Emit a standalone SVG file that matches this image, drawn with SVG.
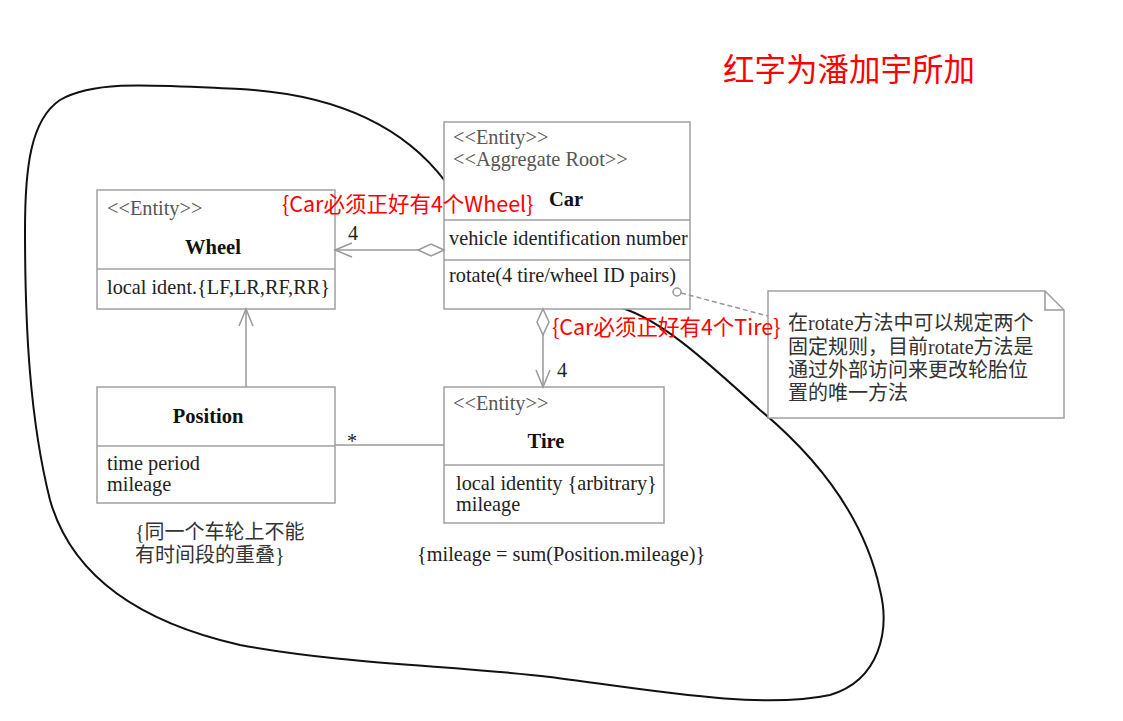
<svg xmlns="http://www.w3.org/2000/svg" width="1123" height="721" viewBox="0 0 1123 721">
<style>
.box{fill:#fff;stroke:#a0a0a0;stroke-width:1.5}
.div{stroke:#a0a0a0;stroke-width:1.5}
.t{font-family:"Liberation Serif","Noto Sans CJK SC",serif;font-size:20.3px;fill:#222}
.st{font-family:"Liberation Serif",serif;font-size:20.3px;fill:#555}
.b{font-family:"Liberation Serif",serif;font-size:20.5px;font-weight:bold;fill:#111;text-anchor:middle}
.cn{font-family:"Liberation Serif","Noto Sans CJK SC",sans-serif;font-size:20px;fill:#333}
.red{font-family:"Noto Sans CJK SC","Noto Sans",sans-serif;fill:#ff0000}
.con{fill:none;stroke:#999;stroke-width:1.5}
.dia{fill:#fff;stroke:#999;stroke-width:1.5}
</style>
<rect width="1123" height="721" fill="#fff"/>
<path id="boundary" d="M445,181 C410,135 350,95 240,89 C150,85 95,80 60,100 C30,120 25,170 25,230 C25,330 30,420 50,500 C70,570 130,620 240,645 C350,665 450,665 550,677 C650,690 760,710 830,695 C880,680 890,630 880,590 C865,520 820,460 760,410 C700,355 660,320 622,308" fill="none" stroke="#111" stroke-width="2"/>
<g id="wheel">
<rect class="box" x="97" y="190" width="238" height="119"/>
<line class="div" x1="97" y1="269" x2="335" y2="269"/>
<text class="st" x="107" y="215">&lt;&lt;Entity&gt;&gt;</text>
<text class="b" x="213" y="254">Wheel</text>
<text class="t" x="107" y="294">local ident.{LF,LR,RF,RR}</text>
</g>
<g id="car">
<rect class="box" x="444" y="122" width="246" height="187"/>
<line class="div" x1="444" y1="220" x2="690" y2="220"/>
<line class="div" x1="444" y1="260" x2="690" y2="260"/>
<text class="st" x="453" y="144">&lt;&lt;Entity&gt;&gt;</text>
<text class="st" x="453" y="166">&lt;&lt;Aggregate Root&gt;&gt;</text>
<text class="b" x="566" y="206">Car</text>
<text class="t" x="449" y="245">vehicle identification number</text>
<text class="t" x="449" y="282">rotate(4 tire/wheel ID pairs)</text>
</g>
<g id="position">
<rect class="box" x="97" y="387" width="238" height="116"/>
<line class="div" x1="97" y1="446" x2="335" y2="446"/>
<text class="b" x="208" y="423">Position</text>
<text class="t" x="107" y="470">time period</text>
<text class="t" x="107" y="491">mileage</text>
</g>
<g id="tire">
<rect class="box" x="444" y="387" width="220" height="136"/>
<line class="div" x1="444" y1="465" x2="664" y2="465"/>
<text class="st" x="453" y="410">&lt;&lt;Entity&gt;&gt;</text>
<text class="b" x="546" y="448">Tire</text>
<text class="t" x="456" y="490">local identity {arbitrary}</text>
<text class="t" x="456" y="511">mileage</text>
</g>
<g id="note">
<polygon class="box" points="768,291 1045,291 1064,310 1064,418 768,418"/>
<polyline class="con" points="1045,291 1045,310 1064,310"/>
<text class="cn" x="788" y="330">在rotate方法中可以规定两个</text>
<text class="cn" x="788" y="354">固定规则，目前rotate方法是</text>
<text class="cn" x="788" y="377">通过外部访问来更改轮胎位</text>
<text class="cn" x="788" y="400">置的唯一方法</text>
</g>
<g id="connectors">
<line class="con" x1="335" y1="250" x2="418" y2="250"/>
<polyline class="con" points="352,243 335,250 352,257"/>
<polygon class="dia" points="444,250 431,244 418,250 431,256"/>
<line class="con" x1="543" y1="335" x2="543" y2="387"/>
<polyline class="con" points="536,370 543,387 550,370"/>
<polygon class="dia" points="543,309 549,322 543,335 537,322"/>
<line class="con" x1="246" y1="387" x2="246" y2="309"/>
<polyline class="con" points="239,326 246,309 253,326"/>
<line class="con" x1="335" y1="445" x2="444" y2="445"/>
<line x1="681" y1="293" x2="768" y2="316" stroke="#999" stroke-width="1.5" stroke-dasharray="5,3"/>
<circle cx="677" cy="292" r="4" fill="#fff" stroke="#999" stroke-width="1.5"/>
<text class="t" x="348" y="240" fill="#333">4</text>
<text class="t" x="557" y="377">4</text>
<text class="t" x="347" y="448" font-size="16">*</text>
</g>
<g id="constraints">
<text class="cn" x="135" y="539">{同一个车轮上不能</text>
<text class="cn" x="135" y="562">有时间段的重叠}</text>
<text class="t" x="417" y="561">{mileage = sum(Position.mileage)}</text>
</g>
<g id="red-notes">
<text class="red" x="723" y="81" font-size="31.5">红字为潘加宇所加</text>
<text class="red" x="282" y="212" font-size="21.5">{Car必须正好有4个Wheel}</text>
<text class="red" x="552" y="335" font-size="21.5">{Car必须正好有4个Tire}</text>
</g>
</svg>
